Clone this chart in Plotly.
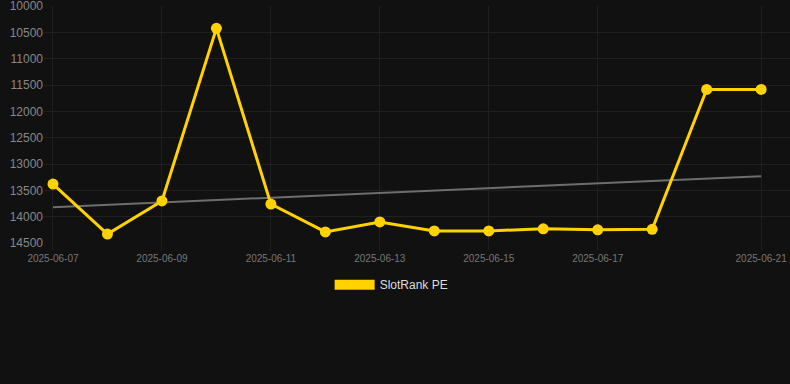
import plotly.graph_objects as go

dates = ["2025-06-07", "2025-06-08", "2025-06-09", "2025-06-10", "2025-06-11",
         "2025-06-12", "2025-06-13", "2025-06-14", "2025-06-15", "2025-06-16",
         "2025-06-17", "2025-06-18", "2025-06-20", "2025-06-21"]
rank_pe = [13380, 14330, 13700, 10420, 13760, 14290, 14100, 14270, 14270,
           14230, 14250, 14240, 11580, 11580]
trend_dates = ["2025-06-07", "2025-06-21"]
trend_values = [13820, 13230]
tick_dates = ["2025-06-07", "2025-06-09", "2025-06-11", "2025-06-13",
              "2025-06-15", "2025-06-17", "2025-06-21"]
y_ticks = [10000, 10500, 11000, 11500, 12000, 12500, 13000, 13500, 14000, 14500]

GOLD = "#FFD200"
BG = "#111111"

fig = go.Figure()
fig.add_trace(go.Scatter(
    x=trend_dates, y=trend_values, mode="lines",
    line=dict(color="#6e6e6e", width=2), showlegend=False, hoverinfo="skip"))
fig.add_trace(go.Scatter(
    x=dates, y=rank_pe, mode="lines+markers",
    line=dict(color=GOLD, width=3), marker=dict(color=GOLD, size=11),
    showlegend=False, name="SlotRank PE"))
fig.add_trace(go.Scatter(
    x=[None], y=[None], mode="lines", line=dict(color=GOLD, width=10),
    name="SlotRank PE", showlegend=True))

fig.update_layout(
    width=790, height=384,
    paper_bgcolor=BG, plot_bgcolor=BG,
    margin=dict(l=44, r=0, t=6, b=141, autoexpand=False),
    font=dict(family="Liberation Sans, Arial, sans-serif"),
    legend=dict(orientation="h", x=0.466, xanchor="center",
                y=-0.115, yanchor="top",
                font=dict(color="#dddddd", size=12), itemwidth=40,
                bgcolor="rgba(0,0,0,0)"),
    xaxis=dict(type="category", categoryorder="array", categoryarray=dates,
               range=[-0.165, 13.53], tickvals=tick_dates, ticktext=tick_dates,
               tickfont=dict(color="#777777", size=10), tickangle=0,
               showgrid=True, gridcolor="#1f1f1f", gridwidth=1,
               zeroline=False, showline=False, automargin=False,
               ticks="outside", ticklen=6, tickcolor="#1f1f1f"),
    yaxis=dict(range=[14500, 9995], tickvals=y_ticks,
               ticktext=[str(v) for v in y_ticks],
               tickfont=dict(color="#888888", size=12),
               ticklabeloverflow="allow", automargin=False,
               showgrid=True, gridcolor="#1f1f1f", gridwidth=1,
               zeroline=False, showline=False, ticks="", ticklen=0),
)

fig.write_html("out.html", config={"displayModeBar": False},
               post_script="document.body.style.margin='0';document.body.style.background='#111111';")
